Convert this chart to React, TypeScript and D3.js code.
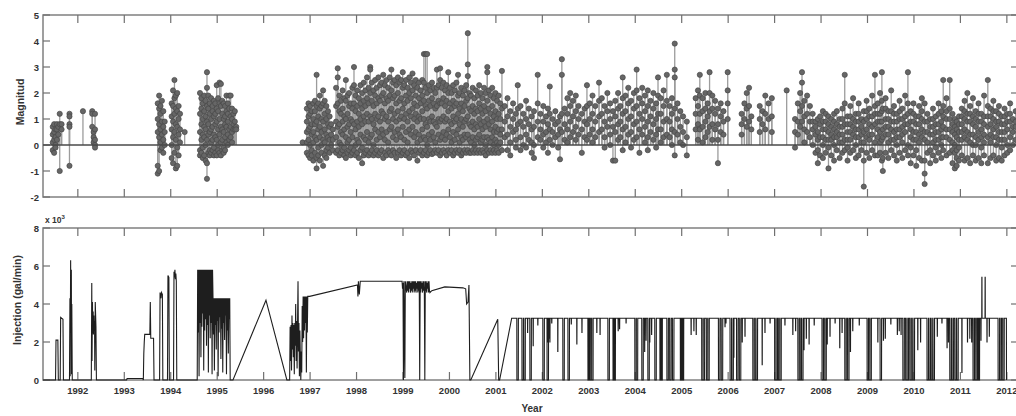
import React from 'react';
import * as d3 from 'd3';

const W = 1016;
const H = 416;

const yearTicks = d3.range(1992, 2013);
const magnitudeTicks = [-2, -1, 0, 1, 2, 3, 4, 5];
const injectionTicks = [0, 2, 4, 6, 8];

// each row: [decimal year, magnitudes of events plotted at that date...]
const quakes1991to1995: number[][] = [
  [1991.46, 0.7, 0.4, 0.1, -0.2], [1991.49, 0.8, 0.5, 0.2, -0.3], [1991.52, 0.6, 0.3, 0.0, -0.1],
  [1991.55, 0.8, 0.6, 0.2], [1991.58, 0.7, 0.4], [1991.61, 1.2, 0.8, -1.0], [1991.65, 0.8, 0.6],
  [1991.82, 1.2, 1.1, 0.8, 0.7, -0.8], [1992.11, 1.3], [1992.31, 1.3, 1.2, 0.7],
  [1992.34, 0.5, 0.3, 0.1], [1992.37, 1.2, 0.6, 0.2, 0.0, -0.1],
  [1993.72, 1.6, 1.0, 0.5, -0.8, -1.1], [1993.75, 1.9, 1.4, 0.8, 0.3, -1.0], [1993.78, 1.5, 1.2, 0.6, 0.1, -0.2],
  [1993.81, 1.7, 0.9, 0.4, -0.1], [1993.84, 1.3, 0.7, 0.2, -0.3], [1993.87, 0.9, 0.5, 0.0],
  [1994.02, 1.6, 1.1, 0.6, 0.0, -0.5], [1994.05, 2.1, 1.5, 0.9, 0.3, -0.7], [1994.08, 2.5, 1.8, 1.2, 0.5, -0.3],
  [1994.11, 1.9, 1.4, 0.8, 0.2, -0.9], [1994.14, 2.0, 1.3, 0.7, -0.1, -0.8], [1994.17, 1.5, 1.0, 0.4, -0.4],
  [1994.20, 1.2, 0.6, 0.1], [1994.30, 0.5],
  [1994.63, 2.0, 1.2, 0.5, -0.2, -0.4], [1994.66, 1.8, 1.4, 0.8, 0.2, -0.3], [1994.69, 1.6, 1.0, 0.4, -0.1, -0.5],
  [1994.72, 1.9, 1.3, 0.7, 0.3, -0.4], [1994.75, 1.7, 1.1, 0.6, 0.0, -0.6], [1994.78, 2.8, 2.2, 1.5, 0.9, 0.2, -0.7, -1.3],
  [1994.81, 1.9, 1.4, 0.8, 0.4, -0.3], [1994.84, 1.6, 1.2, 0.5, -0.2, -0.4], [1994.87, 1.8, 1.0, 0.6, 0.1, -0.3],
  [1994.90, 1.5, 1.3, 0.7, 0.2, -0.2], [1994.93, 1.7, 1.1, 0.4, -0.1, -0.4], [1994.96, 1.6, 1.2, 0.8, 0.3, -0.3],
  [1994.99, 2.3, 1.4, 0.9, 0.2, -0.4], [1995.02, 1.8, 1.3, 0.6, 0.0, -0.2], [1995.05, 2.4, 1.6, 1.0, 0.4, -0.3],
  [1995.08, 2.35, 1.5, 0.7, 0.1, -0.4], [1995.11, 1.7, 1.2, 0.6, 0.2, -0.2], [1995.14, 1.6, 1.0, 0.5, -0.1, -0.3],
  [1995.17, 1.5, 1.1, 0.8, 0.3, -0.2], [1995.20, 1.9, 1.3, 0.7, 0.1], [1995.23, 1.6, 1.2, 0.9, 0.4, 0.0],
  [1995.26, 1.9, 1.4, 0.6, 0.2], [1995.29, 1.9, 1.1, 0.7, 0.3], [1995.32, 1.4, 1.0, 0.5, 0.1],
  [1995.35, 1.2, 0.8, 0.6], [1995.38, 1.3, 0.9, 0.6], [1995.41, 0.7, 0.6],
];

const quakes1996to2001: number[][] = [
  [1996.84, 0.1],
  [1996.93, 1.4, 0.9, 0.5, 0.1, -0.3], [1996.965, 1.6, 1.1, 0.6, 0.2, -0.4], [1997.0, 1.5, 1.2, 0.7, 0.0, -0.5],
  [1997.035, 1.3, 0.8, 0.4, -0.2, -0.4], [1997.07, 1.6, 1.0, 0.5, 0.1, -0.6], [1997.105, 1.7, 1.3, 0.8, 0.3, -0.3],
  [1997.14, 2.7, 1.5, 0.9, 0.2, -0.5, -0.9], [1997.175, 1.6, 1.1, 0.6, -0.1, -0.4], [1997.21, 1.9, 1.4, 0.7, 0.3, -0.6],
  [1997.245, 1.5, 1.0, 0.5, 0.0, -0.3], [1997.28, 2.1, 1.6, 0.9, 0.2, -0.8], [1997.315, 1.7, 1.2, 0.6, 0.1, -0.4],
  [1997.35, 1.5, 1.0, 0.4, -0.2, -0.5], [1997.385, 1.3, 0.8, 0.3, -0.1], [1997.42, 1.1, 0.7, 0.2, -0.3],
  [1997.455, 0.8, 0.4, 0.0], [1997.49, 0.6, 0.2, -0.2],
  [1997.56, 2.2, 1.5, 0.9, 0.3, -0.3], [1997.595, 2.95, 2.6, 1.6, 0.7, -0.2], [1997.63, 1.9, 1.3, 0.8, 0.1, -0.4],
  [1997.665, 1.7, 1.2, 0.5, 0.0, -0.3], [1997.7, 2.1, 1.4, 0.9, 0.4, -0.2], [1997.735, 1.8, 1.1, 0.6, -0.1, -0.4],
  [1997.77, 2.5, 1.7, 1.0, 0.3, -0.5], [1997.805, 1.9, 1.2, 0.7, 0.1, -0.3], [1997.84, 2.0, 1.5, 0.8, 0.2, -0.2],
  [1997.875, 1.6, 1.0, 0.5, -0.1, -0.4], [1997.91, 2.2, 1.4, 0.9, 0.3, -0.3], [1997.945, 3.0, 2.3, 1.6, 0.8, -0.2],
  [1997.98, 1.9, 1.3, 0.6, 0.0, -0.4], [1998.015, 2.1, 1.5, 0.9, 0.2, -0.3], [1998.05, 1.8, 1.2, 0.7, 0.1, -0.5],
  [1998.085, 2.3, 1.6, 1.0, 0.4, -0.2], [1998.12, 2.0, 1.4, 0.8, -0.1, -0.7], [1998.155, 2.4, 1.7, 1.1, 0.3, -0.4],
  [1998.19, 2.1, 1.5, 0.9, 0.2, -0.3], [1998.225, 2.6, 1.8, 1.2, 0.5, -0.2], [1998.26, 2.2, 1.6, 0.9, 0.1, -0.4],
  [1998.295, 3.0, 2.9, 2.0, 1.1, 0.3, -0.3], [1998.33, 2.4, 1.7, 1.0, 0.4, -0.2], [1998.365, 2.1, 1.5, 0.8, 0.0, -0.4],
  [1998.4, 2.5, 1.9, 1.2, 0.6, -0.3], [1998.435, 2.2, 1.6, 1.0, 0.2, -0.2], [1998.47, 2.6, 1.8, 1.1, 0.5, -0.4],
  [1998.505, 2.3, 1.7, 0.9, 0.3, -0.3], [1998.54, 2.4, 1.9, 1.3, 0.6, -0.2], [1998.575, 2.7, 2.0, 1.2, 0.4, -0.5],
  [1998.61, 2.3, 1.6, 1.0, 0.2, -0.3], [1998.645, 2.5, 1.8, 1.1, 0.5, -0.4], [1998.68, 2.2, 1.7, 0.9, 0.1, -0.2],
  [1998.715, 2.6, 1.9, 1.3, 0.6, -0.3], [1998.75, 2.9, 2.1, 1.4, 0.7, -0.4], [1998.785, 2.4, 1.8, 1.0, 0.3, -0.2],
  [1998.82, 2.5, 1.9, 1.2, 0.5, -0.3], [1998.855, 2.3, 1.6, 0.9, 0.2, -0.5], [1998.89, 2.6, 2.0, 1.3, 0.6, -0.3],
  [1998.925, 2.4, 1.7, 1.0, 0.4, -0.2], [1998.96, 2.5, 1.8, 1.1, 0.3, -0.4], [1998.995, 2.8, 2.2, 1.4, 0.7, -0.3],
  [1999.03, 2.3, 1.6, 1.0, 0.2, -0.2], [1999.065, 2.5, 1.9, 1.2, 0.5, -0.4], [1999.1, 2.2, 1.7, 0.9, 0.1, -0.3],
  [1999.135, 2.6, 2.0, 1.3, 0.6, -0.5], [1999.17, 2.4, 1.8, 1.1, 0.4, -0.2], [1999.205, 2.75, 2.1, 1.4, 0.7, -0.3],
  [1999.24, 2.3, 1.6, 1.0, 0.3, -0.4], [1999.275, 2.5, 1.9, 1.2, 0.5, -0.2], [1999.31, 2.2, 1.5, 0.9, 0.1, -0.6],
  [1999.345, 2.4, 1.8, 1.1, 0.4, -0.3], [1999.38, 2.1, 1.6, 1.0, 0.2, -0.2], [1999.415, 2.5, 1.9, 1.3, 0.6, -0.4],
  [1999.45, 3.5, 2.4, 1.7, 1.0, 0.3, -0.3], [1999.485, 3.5, 2.2, 1.5, 0.8, 0.2, -0.2], [1999.52, 3.5, 2.0, 1.4, 0.7, 0.0, -0.4],
  [1999.555, 2.3, 1.7, 1.0, 0.4, -0.3], [1999.59, 2.1, 1.5, 0.9, 0.2, -0.2], [1999.625, 2.4, 1.8, 1.1, 0.5, -0.35],
  [1999.66, 2.2, 1.6, 0.9, 0.3, -0.3], [1999.695, 2.0, 1.4, 0.8, 0.1, -0.2], [1999.73, 2.9, 2.2, 1.5, 0.7, -0.3],
  [1999.765, 2.3, 1.7, 1.0, 0.4, -0.2], [1999.8, 2.95, 2.5, 1.6, 0.9, 0.2, -0.4], [1999.835, 2.2, 1.6, 1.0, 0.3, -0.3],
  [1999.87, 2.4, 1.8, 1.1, 0.5, -0.2], [1999.905, 2.1, 1.5, 0.9, 0.2, -0.3], [1999.94, 2.3, 1.7, 1.0, 0.4, -0.4],
  [1999.975, 2.8, 2.0, 1.3, 0.6, -0.2], [2000.01, 2.2, 1.6, 0.9, 0.3, -0.3], [2000.045, 2.0, 1.4, 0.8, 0.1, -0.2],
  [2000.08, 2.3, 1.7, 1.1, 0.5, -0.4], [2000.115, 2.1, 1.5, 0.9, 0.2, -0.3], [2000.15, 2.4, 1.6, 1.0, 0.4, -0.2],
  [2000.185, 2.7, 1.9, 1.2, 0.6, -0.3], [2000.22, 2.0, 1.4, 0.8, 0.1, -0.2], [2000.255, 2.2, 1.6, 1.0, 0.3, -0.4],
  [2000.29, 1.9, 1.3, 0.7, 0.2, -0.3], [2000.325, 2.1, 1.5, 0.9, 0.4, -0.2], [2000.36, 2.3, 1.7, 1.0, 0.3, -0.3],
  [2000.395, 4.3, 3.1, 2.65, 1.8, 1.1, 0.4, -0.2], [2000.43, 2.0, 1.4, 0.8, 0.2, -0.3], [2000.465, 1.9, 1.3, 0.7, 0.1, -0.3],
  [2000.5, 2.2, 1.5, 0.9, 0.3, -0.2], [2000.535, 1.8, 1.2, 0.6, 0.0, -0.3], [2000.57, 2.1, 1.4, 0.8, 0.2, -0.2],
  [2000.605, 1.9, 1.3, 0.7, 0.3, -0.3], [2000.64, 2.3, 1.6, 1.0, 0.4, -0.2], [2000.675, 2.0, 1.4, 0.8, 0.1, -0.3],
  [2000.71, 1.8, 1.2, 0.6, 0.2, -0.2], [2000.745, 2.2, 1.5, 0.9, 0.3, -0.3], [2000.78, 2.0, 1.3, 0.7, 0.0, -0.4],
  [2000.815, 3.0, 2.8, 1.7, 1.0, 0.3, -0.2], [2000.85, 2.1, 1.4, 0.8, 0.2, -0.3], [2000.885, 1.9, 1.2, 0.6, 0.1, -0.2],
  [2000.92, 2.2, 1.5, 0.9, 0.3, -0.3], [2000.955, 1.8, 1.1, 0.5, 0.0, -0.2], [2000.99, 2.0, 1.3, 0.7, 0.2, -0.3],
  [2001.025, 1.7, 1.0, 0.5, 0.1, -0.2], [2001.06, 1.9, 1.2, 0.6, 0.0, -0.3], [2001.095, 1.6, 1.0, 0.4, 0.1],
];

const quakes2001to2006: number[][] = [
  [2001.13, 2.85, 1.4, 0.6, -0.2], [2001.19, 1.5, 0.9, 0.3], [2001.25, 1.8, 1.1, 0.4, -0.2], [2001.31, 1.3, 0.7, 0.1, -0.4],
  [2001.37, 1.6, 1.0, 0.5], [2001.43, 1.2, 0.6, 0.2, -0.1], [2001.47, 2.3, 1.4, 0.8], [2001.53, 1.5, 0.9, 0.3, -0.2],
  [2001.59, 1.2, 0.7, 0.0], [2001.65, 1.7, 1.0, 0.4, -0.1], [2001.71, 1.4, 0.8, 0.2], [2001.77, 1.1, 0.6, 0.1, -0.3],
  [2001.82, 1.3, 0.7, 0.0, -0.5], [2001.9, 2.7, 1.6, 0.9, 0.3], [2001.96, 1.2, 0.6, 0.2], [2002.02, 1.5, 0.9, 0.4, -0.1],
  [2002.08, 1.1, 0.5, 0.1], [2002.12, 1.4, 0.8, -0.3], [2002.16, 2.25, 1.2, 0.6, 0.2], [2002.22, 1.0, 0.5, 0.0],
  [2002.28, 1.3, 0.8, 0.3], [2002.34, 0.9, 0.4, -0.1], [2002.38, 1.1, 0.6, -0.55], [2002.42, 3.3, 2.7, 1.2, 0.5],
  [2002.48, 1.4, 0.8, 0.2], [2002.54, 1.8, 1.2, 0.6, 0.1], [2002.6, 2.0, 1.5, 0.9, 0.3], [2002.66, 1.7, 1.1, 0.5],
  [2002.72, 1.9, 1.3, 0.7, 0.2], [2002.78, 1.5, 1.0, 0.4], [2002.85, 1.2, 0.6, -0.3], [2002.91, 1.4, 0.9, 0.3],
  [2002.96, 2.3, 1.5, 0.8, 0.2], [2003.02, 1.6, 1.0, 0.4], [2003.08, 1.9, 1.2, 0.6, 0.1], [2003.14, 1.5, 0.9, 0.3],
  [2003.22, 2.4, 1.7, 1.1, 0.5], [2003.28, 1.8, 1.2, 0.6], [2003.34, 1.5, 0.9, 0.3, -0.1], [2003.4, 2.0, 1.3, 0.7],
  [2003.46, 1.6, 1.0, 0.4, 0.0], [2003.52, 1.3, 0.7, -0.6], [2003.57, 1.7, 1.1, 0.5, -0.6], [2003.63, 2.0, 1.4, 0.8, 0.2],
  [2003.68, 1.5, 0.9, 0.3], [2003.73, 2.6, 1.8, 1.2, 0.6, -0.2], [2003.79, 1.9, 1.3, 0.7, 0.1], [2003.85, 2.2, 1.6, 1.0, 0.4],
  [2003.91, 1.7, 1.1, 0.5, -0.1], [2003.97, 2.0, 1.4, 0.8, 0.2], [2004.03, 2.9, 2.1, 1.5, 0.9, 0.3], [2004.09, 1.8, 1.2, 0.6, -0.3],
  [2004.15, 2.2, 1.6, 1.0, 0.4], [2004.21, 1.9, 1.3, 0.7, 0.1], [2004.27, 2.1, 1.5, 0.9, 0.3, -0.2], [2004.33, 1.7, 1.1, 0.5],
  [2004.39, 2.0, 1.4, 0.8, 0.2], [2004.45, 1.6, 1.0, 0.4, -0.1], [2004.49, 2.6, 1.9, 1.2, 0.6], [2004.55, 1.8, 1.2, 0.6, 0.1],
  [2004.61, 2.1, 1.5, 0.9, 0.3], [2004.68, 2.7, 1.7, 1.0, 0.4], [2004.74, 1.5, 0.9, 0.3], [2004.79, 1.8, 1.2, 0.6, 0.0],
  [2004.85, 3.9, 2.9, 2.6, 1.4, 0.5, -0.4], [2004.91, 1.6, 1.0, 0.4], [2004.97, 1.3, 0.7, 0.1], [2005.03, 1.1, 0.5, 0.0],
  [2005.11, 0.9, 0.3, -0.4], [2005.3, 1.8, 1.2, 0.6], [2005.35, 2.1, 1.5, 0.8, 0.2], [2005.39, 2.7, 1.9, 1.2, 0.6],
  [2005.45, 1.8, 1.3, 0.7, 0.1], [2005.51, 2.0, 1.4, 0.9, 0.3], [2005.56, 1.6, 1.1, 0.5], [2005.6, 2.8, 2.0, 1.3, 0.7],
  [2005.66, 1.9, 1.4, 0.8, 0.2], [2005.72, 1.7, 1.2, 0.6], [2005.78, 1.4, 0.8, 0.2, -0.7], [2005.84, 1.6, 1.1, 0.5],
  [2005.9, 1.3, 0.9, 0.4], [2005.99, 2.8, 2.1, 1.6, 1.0],
];

const quakes2006to2012: number[][] = [
  [2006.29, 1.2, 0.8, 0.4], [2006.35, 1.6, 1.0], [2006.4, 2.0, 1.4, 0.7], [2006.45, 2.2, 1.5, 0.9], [2006.5, 1.1, 0.6],
  [2006.68, 1.5, 1.0, 0.5], [2006.74, 1.3, 0.8], [2006.8, 1.9, 1.2, 0.6], [2006.87, 1.6, 1.0], [2006.94, 1.8, 1.1, 0.5],
  [2007.26, 2.1], [2007.44, 1.0, 0.5, -0.1], [2007.5, 1.6, 0.9, 0.4], [2007.55, 2.0, 1.3, 0.7],
  [2007.59, 2.8, 2.4, 1.5, 0.9], [2007.64, 1.7, 1.1, 0.6, 0.1], [2007.7, 1.9, 1.2, 0.5], [2007.76, 1.5, 0.9, 0.3],
  [2007.82, 1.2, 0.6, 0.0, 0.9], [2007.88, 0.9, 0.4, -0.3, 0.7], [2007.93, 1.0, 0.5, -0.2, -0.7, 0.2], [2007.98, 0.8, 0.3, -0.4, 1.1],
  [2008.04, 1.3, 0.6, 0.0, -0.5, 0.9, 0.3], [2008.1, 0.9, 0.2, -0.3, 0.6, 1.2], [2008.16, 1.1, 0.5, -0.1, -0.9, 0.8, 0.2],
  [2008.22, 0.7, 0.2, -0.4, 1.0, 0.4], [2008.28, 1.2, 0.6, 0.0, -0.6, 0.9, 0.3], [2008.34, 0.8, 0.3, -0.2, 1.3, 0.5],
  [2008.4, 1.0, 0.4, -0.5, 0.7, 0.1], [2008.46, 1.4, 0.7, 0.1, -0.3, 1.0, 0.4], [2008.51, 2.7, 1.6, 0.8, 0.2, -0.2],
  [2008.57, 1.1, 0.5, -0.1, -0.6, 0.8, 0.2], [2008.63, 1.5, 0.8, 0.2, -0.3, 1.1, 0.5], [2008.69, 1.8, 1.0, 0.4, -0.2, 0.7],
  [2008.75, 1.2, 0.6, 0.0, -0.5, 0.9, 0.3], [2008.81, 1.6, 0.9, 0.3, -0.4, 1.2, 0.6], [2008.87, 1.0, 0.4, -0.2, 0.7, 0.1],
  [2008.92, 1.3, 0.5, -0.6, -1.6, 0.9, 0.1], [2008.98, 1.7, 1.0, 0.3, -0.3, 1.3, 0.6], [2009.04, 1.4, 0.8, 0.2, -0.5, 1.1, 0.4],
  [2009.1, 1.9, 1.1, 0.4, -0.2, 0.7], [2009.16, 2.7, 1.5, 0.8, 0.1, -0.4, 1.2], [2009.22, 1.6, 0.9, 0.3, -0.4, 1.2, 0.6],
  [2009.27, 2.0, 1.2, 0.5, -0.3, 0.9, 0.1], [2009.31, 2.8, 1.7, 0.9, 0.2, -0.6, 1.3], [2009.33, 1.4, 0.6, -0.5, -1.0, 0.3],
  [2009.39, 1.8, 1.0, 0.4, -0.3, 1.4, 0.7], [2009.45, 1.3, 0.7, 0.1, -0.5, 1.0, 0.4], [2009.51, 2.1, 1.3, 0.6, -0.2, 0.9, 0.2],
  [2009.57, 1.5, 0.9, 0.2, -0.4, 1.2, 0.5], [2009.63, 1.2, 0.6, 0.0, -0.6, 0.9, 0.3], [2009.69, 1.7, 1.0, 0.3, -0.3, 1.3, 0.6],
  [2009.75, 1.4, 0.7, 0.1, -0.5, 1.0, 0.4], [2009.81, 1.9, 1.1, 0.5, -0.2, 0.8], [2009.87, 2.8, 1.6, 0.8, 0.0, -0.4, 1.2],
  [2009.93, 1.3, 0.6, -0.1, -0.7, 0.9, 0.3], [2009.99, 1.6, 0.9, 0.2, -0.4, 1.2, 0.5], [2010.05, 1.1, 0.5, -0.2, -0.8, 0.8, 0.2],
  [2010.11, 1.5, 0.8, 0.1, -0.5, 1.1, 0.4], [2010.17, 1.8, 1.0, 0.3, -0.6, 1.3, 0.6], [2010.23, 1.6, 0.9, 0.2, -0.6, -1.1, -1.5, 0.5],
  [2010.29, 1.2, 0.5, -0.3, 0.9, 0.1], [2010.35, 1.0, 0.4, -0.2, -0.7, 0.7], [2010.41, 1.4, 0.7, 0.1, -0.4, 1.0, 0.4],
  [2010.47, 1.1, 0.5, -0.1, -0.6, 0.8, 0.2], [2010.53, 1.6, 0.8, 0.2, -0.3, 1.2, 0.5], [2010.59, 1.3, 0.6, 0.0, -0.5, 0.9, 0.3],
  [2010.63, 2.5, 1.5, 0.7, -0.2, 1.1, 0.3], [2010.7, 1.8, 1.0, 0.3, -0.4, 1.3, 0.6], [2010.77, 2.5, 1.4, 0.6, -0.3, 1.0, 0.2],
  [2010.83, 1.2, 0.5, -0.2, -0.7, 0.8, 0.1], [2010.88, 1.0, 0.4, -0.3, -0.9, 0.7, 0.0], [2010.92, 0.9, 0.3, -0.2, -0.5, -0.8, 0.6],
  [2010.97, 1.1, 0.5, -0.1, -0.6, 0.8, 0.2], [2011.03, 1.4, 0.8, 0.2, -0.4, 1.1, 0.5], [2011.09, 1.7, 1.0, 0.3, -0.6, 1.3, 0.6],
  [2011.15, 2.0, 1.2, 0.5, -0.5, 0.9, 0.2], [2011.21, 1.5, 0.9, 0.1, -0.7, 1.2, 0.4], [2011.27, 1.8, 1.1, 0.4, -0.4, 0.8, 0.0],
  [2011.33, 1.3, 0.7, 0.0, -0.6, 1.0, 0.3], [2011.39, 1.6, 0.9, 0.2, -0.5, 1.2, 0.5], [2011.45, 1.2, 0.6, -0.1, -0.7, 0.9, 0.3],
  [2011.51, 1.9, 1.1, 0.4, -0.4, 0.8, 0.1], [2011.59, 2.5, 1.5, 0.7, -0.7, 1.1, 0.3], [2011.65, 1.4, 0.8, 0.1, -0.5, 1.1, 0.4],
  [2011.71, 1.7, 1.0, 0.3, -0.4, 1.3, 0.6], [2011.77, 1.3, 0.7, 0.0, -0.6, 0.9, 0.3], [2011.83, 1.5, 0.9, 0.2, -0.5, 1.2, 0.5],
  [2011.89, 1.1, 0.5, -0.1, -0.6, 0.8, 0.2], [2011.95, 1.4, 0.8, 0.2, -0.4, 1.1, 0.5], [2012.01, 1.2, 0.6, 0.0, -0.3, 0.9],
  [2012.07, 1.6, 0.9, 0.3, -0.2, 1.2], [2012.13, 1.0, 0.5, 0.0, 0.7], [2012.19, 1.3, 0.7, 0.2, 0.9],
];

// injection rate, x10^3 gal/min: [decimal year, rate]
const injection1991to2001: number[][] = [
  [1991.25, 0], [1991.52, 0], [1991.53, 2.1], [1991.57, 2.1], [1991.58, 0],
  [1991.62, 0], [1991.63, 3.3], [1991.68, 3.2], [1991.69, 0],
  [1991.82, 0], [1991.83, 4.3], [1991.835, 0.2], [1991.845, 6.3], [1991.85, 2.6], [1991.86, 5.8], [1991.865, 0.3], [1991.87, 4.0], [1991.88, 0],
  [1992.29, 0], [1992.3, 5.1], [1992.305, 1.0], [1992.315, 4.1], [1992.32, 2.5], [1992.33, 3.6], [1992.335, 2.4], [1992.345, 3.4],
  [1992.35, 2.6], [1992.36, 3.1], [1992.365, 0.5], [1992.375, 4.1], [1992.39, 2.8], [1992.4, 0],
  [1993.05, 0], [1993.06, 0.08], [1993.4, 0.08], [1993.41, 0], [1993.42, 1.4], [1993.43, 2.0], [1993.44, 2.4], [1993.55, 2.4],
  [1993.56, 4.1], [1993.57, 2.2], [1993.63, 2.2], [1993.64, 0],
  [1993.76, 0], [1993.77, 4.6], [1993.79, 4.3], [1993.8, 4.6], [1993.82, 4.5], [1993.83, 0],
  [1993.93, 0], [1993.94, 5.5], [1993.96, 5.4], [1993.97, 0],
  [1994.06, 0], [1994.07, 5.7], [1994.08, 5.4], [1994.09, 5.8], [1994.1, 5.3], [1994.11, 5.6], [1994.12, 5.2], [1994.13, 0],
  [1994.57, 0], [1994.58, 5.8], [1994.59, 2.5], [1994.6, 5.8], [1994.61, 0.2], [1994.62, 5.8], [1994.63, 3.0], [1994.64, 5.8],
  [1994.65, 1.2], [1994.66, 5.8], [1994.67, 2.8], [1994.68, 5.8], [1994.69, 3.5], [1994.7, 5.8], [1994.71, 0.5], [1994.72, 5.8],
  [1994.73, 2.6], [1994.74, 5.8], [1994.75, 3.2], [1994.76, 5.8], [1994.77, 1.8], [1994.78, 5.8], [1994.79, 2.9], [1994.8, 5.8],
  [1994.81, 0.4], [1994.82, 5.8], [1994.83, 3.4], [1994.84, 5.8], [1994.85, 2.2], [1994.86, 5.8], [1994.87, 3.0], [1994.88, 5.8],
  [1994.89, 0.3], [1994.9, 5.8], [1994.91, 4.3], [1994.92, 2.4], [1994.93, 4.3], [1994.94, 0.5], [1994.95, 4.3], [1994.96, 2.9],
  [1994.97, 4.3], [1994.98, 1.6], [1994.99, 4.3], [1995.0, 3.1], [1995.01, 4.3], [1995.02, 0.2], [1995.03, 4.3], [1995.04, 2.5],
  [1995.05, 4.3], [1995.06, 3.3], [1995.07, 4.3], [1995.08, 1.1], [1995.09, 4.3], [1995.1, 2.7], [1995.11, 4.3], [1995.12, 0.4],
  [1995.13, 4.3], [1995.14, 3.0], [1995.15, 4.3], [1995.16, 2.1], [1995.17, 4.3], [1995.18, 3.4], [1995.19, 4.3], [1995.2, 0.3],
  [1995.21, 4.3], [1995.22, 2.6], [1995.23, 4.3], [1995.24, 1.4], [1995.25, 4.3], [1995.26, 3.2], [1995.27, 4.3], [1995.28, 0],
  [1995.34, 0], [1996.05, 4.2], [1996.5, 0],
  [1996.56, 0], [1996.57, 2.8], [1996.58, 1.0], [1996.59, 2.9], [1996.6, 0.5], [1996.61, 3.4], [1996.62, 1.6], [1996.63, 3.0],
  [1996.64, 1.2], [1996.65, 2.9], [1996.66, 0.3], [1996.67, 3.0], [1996.68, 1.8], [1996.69, 4.0], [1996.7, 1.0], [1996.71, 3.1],
  [1996.72, 0.6], [1996.73, 2.9], [1996.74, 5.2], [1996.75, 1.5], [1996.76, 3.0], [1996.77, 0.2], [1996.78, 2.6], [1996.79, 1.3],
  [1996.8, 0], [1996.81, 1.5], [1996.82, 0.4], [1996.83, 3.9], [1996.84, 2.0], [1996.85, 4.4], [1996.86, 2.2], [1996.87, 4.4],
  [1996.88, 2.6], [1996.89, 4.4], [1996.9, 3.0], [1996.91, 4.4], [1996.92, 0.4], [1996.93, 4.4], [1996.94, 2.5], [1996.95, 4.4],
  [1996.99, 4.4], [1998.02, 5.0], [1998.03, 4.4], [1998.04, 5.2], [1998.06, 4.5], [1998.08, 5.2], [1998.98, 5.2], [1998.99, 4.8],
  [1999.0, 5.1], [1999.01, 0], [1999.02, 5.2], [1999.04, 0.1], [1999.05, 5.2],
  [1999.08, 4.6], [1999.09, 5.2], [1999.1, 4.7], [1999.11, 5.2], [1999.12, 4.6], [1999.13, 5.2], [1999.14, 4.8], [1999.15, 5.2],
  [1999.16, 4.6], [1999.17, 5.1], [1999.18, 4.7], [1999.19, 5.2], [1999.2, 4.6], [1999.21, 5.2], [1999.22, 4.8], [1999.23, 5.2],
  [1999.24, 4.6], [1999.25, 5.2], [1999.26, 4.7], [1999.27, 5.2], [1999.28, 4.6], [1999.29, 5.1], [1999.3, 4.8], [1999.31, 5.2],
  [1999.32, 4.6], [1999.33, 5.2], [1999.34, 4.7], [1999.35, 5.2], [1999.36, 0], [1999.37, 5.2], [1999.38, 4.6], [1999.39, 5.2],
  [1999.4, 4.8], [1999.41, 5.1], [1999.42, 4.6], [1999.43, 5.2], [1999.44, 4.7], [1999.45, 5.2], [1999.46, 4.6], [1999.47, 0],
  [1999.48, 5.2], [1999.49, 4.7], [1999.5, 5.2], [1999.51, 4.6], [1999.52, 5.1], [1999.53, 4.8], [1999.54, 5.2], [1999.55, 4.6],
  [1999.56, 5.2], [1999.57, 4.7], [1999.58, 4.6],
  [1999.62, 4.7], [1999.9, 4.9], [2000.29, 4.85], [2000.35, 4.8], [2000.37, 4.0], [2000.4, 4.1], [2000.42, 5.0], [2000.44, 0],
  [2000.46, 0], [2001.04, 3.2], [2001.06, 0], [2001.08, 0], [2001.34, 3.25],
];

// 2001-2012 the rate sits on a plateau; excursions off it: [decimal year, rate reached]
const plateauRate = 3.25;
const plateauEnd = 2011.99;
const injectionExcursions: number[][] = [
  [2001.45, 0], [2001.56, 0], [2001.6, 0], [2001.68, 2.5], [2001.73, 0], [2001.8, 1.8], [2001.9, 2.9],
  [2002.01, 0], [2002.1, 0], [2002.12, 2.0], [2002.14, 2.2], [2002.16, 2.0], [2002.2, 3.0], [2002.33, 1.5], [2002.44, 0],
  [2002.55, 0], [2002.62, 2.95], [2002.74, 1.9], [2002.85, 2.5],
  [2002.98, 0], [2003.0, 0], [2003.03, 0], [2003.06, 0], [2003.17, 2.5], [2003.24, 2.4], [2003.41, 0], [2003.52, 0],
  [2003.54, 0], [2003.63, 2.6], [2003.66, 2.7], [2003.8, 3.0],
  [2003.99, 0], [2004.02, 0], [2004.14, 0], [2004.2, 1.5], [2004.23, 2.1], [2004.27, 0], [2004.31, 2.0], [2004.35, 2.4],
  [2004.42, 0], [2004.53, 0], [2004.55, 0], [2004.68, 0],
  [2004.74, 0], [2004.8, 0], [2004.97, 0], [2004.99, 0], [2005.01, 0], [2005.2, 2.4], [2005.26, 2.6], [2005.31, 2.4],
  [2005.43, 0], [2005.46, 0], [2005.53, 0], [2005.56, 0], [2005.79, 0], [2005.85, 0], [2005.93, 2.8], [2005.95, 3.0],
  [2006.04, 0], [2006.08, 0], [2006.12, 1.2], [2006.18, 0], [2006.24, 0], [2006.3, 2.0], [2006.36, 2.3], [2006.53, 0],
  [2006.56, 0], [2006.6, 0], [2006.73, 0.8], [2006.79, 2.5], [2006.9, 3.0],
  [2007.0, 0], [2007.03, 0], [2007.08, 0], [2007.11, 0], [2007.22, 2.9], [2007.39, 2.4], [2007.45, 2.6], [2007.5, 0],
  [2007.53, 0], [2007.58, 0], [2007.63, 1.6], [2007.68, 2.2], [2007.74, 1.9], [2007.85, 2.9],
  [2008.02, 0], [2008.05, 0], [2008.08, 0], [2008.13, 1.9], [2008.19, 2.3], [2008.3, 3.0], [2008.4, 1.7], [2008.45, 2.5],
  [2008.51, 0], [2008.54, 0], [2008.57, 0], [2008.63, 1.5], [2008.68, 2.6], [2008.82, 2.9],
  [2008.99, 0], [2009.02, 0], [2009.05, 0], [2009.22, 2.0], [2009.27, 0], [2009.34, 2.1], [2009.38, 2.2], [2009.5, 2.95],
  [2009.64, 2.4], [2009.68, 2.6], [2009.72, 2.4], [2009.76, 0], [2009.82, 0], [2009.85, 0], [2009.91, 0], [2009.94, 0], [2009.98, 0],
  [2010.08, 1.6], [2010.14, 2.0], [2010.28, 0], [2010.32, 0], [2010.37, 0], [2010.41, 0], [2010.5, 2.3], [2010.6, 3.0],
  [2010.71, 1.7], [2010.74, 2.0], [2010.77, 0], [2010.82, 0], [2010.88, 0], [2010.92, 0], [2011.03, 0.4],
  [2011.15, 2.0], [2011.2, 2.2], [2011.24, 2.0], [2011.27, 0], [2011.3, 0], [2011.33, 0], [2011.36, 0], [2011.38, 0],
  [2011.44, 2.1], [2011.46, 5.4], [2011.53, 5.4], [2011.57, 2.0], [2011.62, 2.3], [2011.81, 0], [2011.85, 0], [2011.88, 0], [2011.91, 0],
];

const left = 43;
const right = 1018;
const magTop = 15;
const magBottom = 197;
const injTop = 228;
const injBottom = 380;

const x = d3.scaleLinear().domain([1991.25, 2012.24]).range([left, right]);
const yMag = d3.scaleLinear().domain([-2, 5]).range([magBottom, magTop]);
const yInj = d3.scaleLinear().domain([0, 8]).range([injBottom, injTop]);

const quakes = [...quakes1991to1995, ...quakes1996to2001, ...quakes2001to2006, ...quakes2006to2012]
  .flatMap(([t, ...mags]) => mags.map(m => ({ t, m })));

// full shut-ins (rate 0) last a little longer than partial dips, so they read as solid bars
const injectionPoints: number[][] = [...injection1991to2001];
injectionExcursions.forEach(([t, v]) => {
  const hold = v === 0 ? 0.03 : 0.002;
  injectionPoints.push([t, plateauRate], [t + 0.002, v], [t + 0.002 + hold, v], [t + 0.004 + hold, plateauRate]);
});
injectionPoints.push([plateauEnd, plateauRate], [plateauEnd + 0.002, 0]);

const labelFont = "'Liberation Sans', Arial, sans-serif";
const textColor = '#333';

function Frame({ top, bottom, yScale, ticks }) {
  return (
    <g>
      <rect x={left} y={top} width={right - left} height={bottom - top} fill="#fff" stroke="#808080" strokeWidth={1.5} />
      {yearTicks.map(yr => (
        <g key={yr} stroke="#707070" strokeWidth={1.2}>
          <line x1={x(yr)} x2={x(yr)} y1={top} y2={top + 8} />
          <line x1={x(yr)} x2={x(yr)} y1={bottom} y2={bottom - 8} />
        </g>
      ))}
      {ticks.map(v => (
        <g key={v}>
          <line x1={left} x2={left + 7} y1={yScale(v)} y2={yScale(v)} stroke="#707070" strokeWidth={1.2} />
          <line x1={right} x2={right - 7} y1={yScale(v)} y2={yScale(v)} stroke="#707070" strokeWidth={1.2} />
          <text x={left - 4} y={yScale(v) + 3.5} textAnchor="end" fontSize={9.5} fontWeight="bold" fill={textColor}>{v}</text>
        </g>
      ))}
    </g>
  );
}

export default function App() {
  const injLine = d3.line<number[]>().x(d => x(d[0])).y(d => yInj(d[1]));

  return (
    <svg width={W} height={H} style={{ position: 'absolute', left: 0, top: 0, background: '#fff' }} fontFamily={labelFont}>
      <Frame top={magTop} bottom={magBottom} yScale={yMag} ticks={magnitudeTicks} />
      <g>
        {quakes.map((q, i) => (
          <line key={'s' + i} x1={x(q.t)} x2={x(q.t)} y1={yMag(0)} y2={yMag(q.m)} stroke="#9c9c9c" strokeWidth={1.3} />
        ))}
        {quakes.map((q, i) => (
          <circle key={'c' + i} cx={x(q.t)} cy={yMag(q.m)} r={2.6} fill="#666" stroke="#484848" strokeWidth={0.7} />
        ))}
      </g>
      <line x1={left} x2={right} y1={yMag(0)} y2={yMag(0)} stroke="#4a4a4a" strokeWidth={1.5} />
      <text transform={`translate(24,${(magTop + magBottom) / 2 - 4}) rotate(-90)`} textAnchor="middle" fontSize={10.5} fontWeight="bold" fill={textColor}>Magnitud</text>

      <Frame top={injTop} bottom={injBottom} yScale={yInj} ticks={injectionTicks} />
      <path d={injLine(injectionPoints) || ''} fill="none" stroke="#1e1e1e" strokeWidth={1.1} />
      <text x={left + 2} y={injTop - 5} fontSize={8.5} fontWeight="bold" fill={textColor}>x 10<tspan dy={-4} fontSize={6}>3</tspan></text>
      <text transform={`translate(21,${(injTop + injBottom) / 2 - 4}) rotate(-90)`} textAnchor="middle" fontSize={10.5} fontWeight="bold" fill={textColor}>Injection (gal/min)</text>
      {yearTicks.map(yr => (
        <text key={yr} x={x(yr)} y={394} textAnchor="middle" fontSize={9.5} fontWeight="bold" fill={textColor}>{yr}</text>
      ))}
      <text x={532} y={412} textAnchor="middle" fontSize={10} fontWeight="bold" fill={textColor}>Year</text>
    </svg>
  );
}
